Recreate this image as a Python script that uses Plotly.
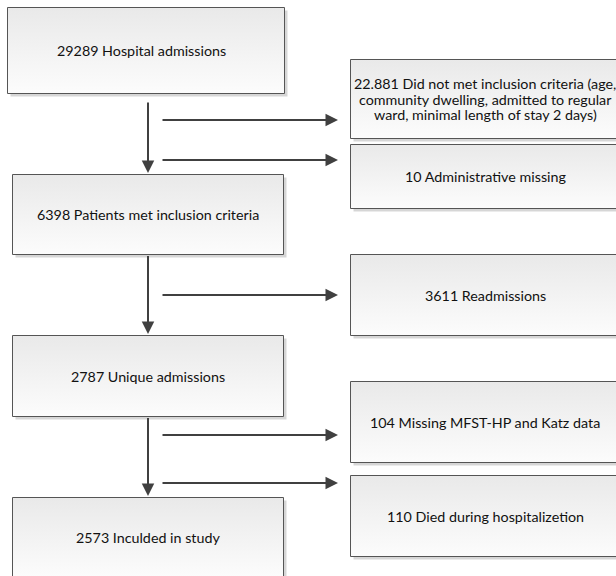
import plotly.graph_objects as go

# ---- content ----
main_counts = ["29289", "6398", "2787", "2573"]
main_labels = ["Hospital admissions", "Patients met inclusion criteria",
               "Unique admissions", "Inculded in study"]
excl_counts = ["22.881", "10", "3611", "104", "110"]
excl_labels = ["Did not met inclusion criteria (age,<br>community dwelling, admitted to regular<br>ward, minimal length of stay 2 days)",
               "Administrative missing", "Readmissions",
               "Missing MFST-HP and Katz data", "Died during hospitalizetion"]

# ---- layout geometry (window pixels) ----
W, H = 616, 576
main_boxes = [(7.5, 284.5, 7.5, 93.5), (12.5, 283.5, 174.5, 254.5),
              (12.5, 283.5, 335.5, 416.5), (12.5, 283.5, 497.5, 577.5)]
main_text_x = [141, 148, 148, 148]
excl_boxes = [(350.5, 619, 59.5, 138.5), (350.5, 619, 144.5, 208.5),
              (350.5, 619, 254.5, 335.5), (350.5, 619, 381.5, 462.5),
              (350.5, 619, 475.5, 556.5)]
excl_text_x = 485
vert_arrows = [(148, 101, 173), (148, 254.5, 334), (148, 416.5, 496)]
horiz_arrow_y = [120, 160, 295, 435, 483]
horiz_x0, horiz_x1 = 161, 338
LINE_GAP = 15.5

FONT = "Lato"
FS = 14.3
TXT = "#111111"
fig = go.Figure()
shapes = []
annotations = []

def add_box(x0, x1, y0, y1):
    shapes.append(dict(type="rect", x0=x0 + 3, x1=x1 + 3, y0=y0 + 3, y1=y1 + 3,
                       fillcolor="rgba(0,0,0,0.16)", line=dict(width=0),
                       layer="below"))
    fig.add_trace(go.Scatter(
        x=[x0, x1, x1, x0, x0], y=[y0, y0, y1, y1, y0], mode="lines",
        fill="toself",
        fillgradient=dict(type="vertical",
                          colorscale=[[0, "#fcfcfc"], [1, "#e9e9e9"]]),
        line=dict(color="#555555", width=1), hoverinfo="skip",
        showlegend=False))

def add_text(x, yc, text):
    lines = text.split("<br>")
    n = len(lines)
    for i, ln in enumerate(lines):
        annotations.append(dict(x=x, y=yc + (i - (n - 1) / 2) * LINE_GAP,
                                text=ln, showarrow=False, xref="x", yref="y",
                                font=dict(family=FONT, size=FS, color=TXT)))

for (x0, x1, y0, y1), c, lab, tx in zip(main_boxes, main_counts, main_labels, main_text_x):
    add_box(x0, x1, y0, y1)
    add_text(tx, (y0 + y1) / 2, f"{c} {lab}")

for (x0, x1, y0, y1), c, lab in zip(excl_boxes, excl_counts, excl_labels):
    add_box(x0, x1, y0, y1)
    add_text(excl_text_x, (y0 + y1) / 2, f"{c} {lab}")

arrow_style = dict(showarrow=True, arrowhead=2, arrowsize=1.25, arrowwidth=2,
                   arrowcolor="#404040", xref="x", yref="y", axref="x", ayref="y",
                   text="", standoff=0, startstandoff=0)
for x, ya, yb in vert_arrows:
    annotations.append(dict(x=x, y=yb, ax=x, ay=ya, **arrow_style))
for y in horiz_arrow_y:
    annotations.append(dict(x=horiz_x1, y=y, ax=horiz_x0, ay=y, **arrow_style))

fig.update_layout(
    width=W, height=H,
    margin=dict(l=0, r=0, t=0, b=0),
    paper_bgcolor="white", plot_bgcolor="white",
    xaxis=dict(range=[0, W], visible=False, fixedrange=True),
    yaxis=dict(range=[H, 0], visible=False, fixedrange=True),
    shapes=shapes, annotations=annotations, showlegend=False,
)
fig.write_html(
    "out.html",
    config={"displayModeBar": False, "staticPlot": True},
    post_script="document.body.style.margin='0';"
                "document.body.style.overflow='hidden';"
                "document.documentElement.style.overflow='hidden';",
)
